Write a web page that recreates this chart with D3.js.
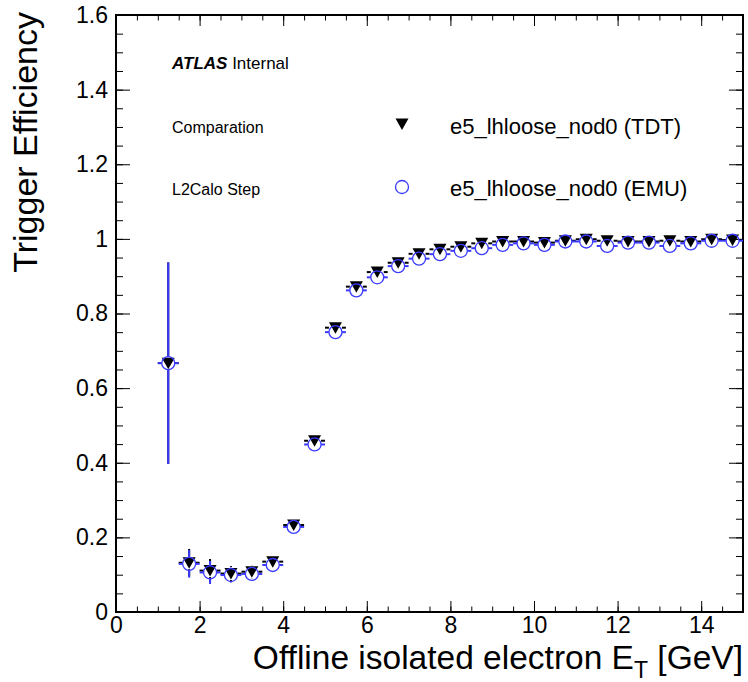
<!DOCTYPE html>
<html>
<head>
<meta charset="utf-8">
<script src="https://cdn.jsdelivr.net/npm/d3@7"></script>
<style>
  body { margin: 0; background: #fff; }
  svg { display: block; font-family: "Liberation Sans", Arial, sans-serif; }
</style>
</head>
<body>
<svg id="chart" width="748" height="682"></svg>
<script>
// bin centres (offline electron ET, GeV), bin half width 0.25
const binCenters = [1.25, 1.75, 2.25, 2.75, 3.25, 3.75, 4.25, 4.75, 5.25, 5.75, 6.25, 6.75, 7.25, 7.75,
  8.25, 8.75, 9.25, 9.75, 10.25, 10.75, 11.25, 11.75, 12.25, 12.75, 13.25, 13.75, 14.25, 14.75];
const binHalfWidth = 0.25;

const effTDT = [0.667, 0.132, 0.111, 0.103, 0.108, 0.135, 0.233, 0.459, 0.762, 0.872, 0.911, 0.936, 0.960, 0.972,
  0.979, 0.988, 0.993, 0.993, 0.990, 0.995, 0.999, 0.995, 0.993, 0.993, 0.995, 0.993, 0.999, 0.997];
const effEMU = [0.667, 0.129, 0.106, 0.099, 0.102, 0.126, 0.228, 0.449, 0.750, 0.862, 0.897, 0.927, 0.947, 0.959,
  0.968, 0.975, 0.984, 0.988, 0.984, 0.993, 0.993, 0.981, 0.990, 0.990, 0.981, 0.988, 0.995, 0.995];
const errTDT = [0.27, 0.037, 0.031, 0.02, 0.018, 0.017, 0.015, 0.014, 0.012, 0.01, 0.009, 0.008, 0.007, 0.006,
  0.005, 0.005, 0.004, 0.004, 0.004, 0.003, 0.003, 0.003, 0.003, 0.003, 0.003, 0.003, 0.002, 0.002];
const errEMU = errTDT;

const xTicks = [0, 2, 4, 6, 8, 10, 12, 14];
const yTicks = [0, 0.2, 0.4, 0.6, 0.8, 1, 1.2, 1.4, 1.6];

const labelTDT = 'e5_lhloose_nod0 (TDT)';
const labelEMU = 'e5_lhloose_nod0 (EMU)';

const blue = '#3a3aff';

const svg = d3.select('#chart');
const margin = { top: 15, right: 5, bottom: 70, left: 116 };
const width = 748 - margin.left - margin.right;
const height = 682 - margin.top - margin.bottom;

const x = d3.scaleLinear().domain([0, 15]).range([margin.left, margin.left + width]);
const y = d3.scaleLinear().domain([0, 1.6]).range([margin.top + height, margin.top]);

const fmtY = d => d === 0 ? '0' : d3.format('~g')(d);

// minor ticks
const xMinor = d3.range(0, 15.01, 0.5);
const yMinor = d3.range(0, 1.601, 0.05);

function styleAxis(g) {
  g.select('.domain').remove();
  g.selectAll('line').attr('stroke', '#000').attr('stroke-width', 1);
  g.selectAll('text').attr('font-size', 23).attr('fill', '#000');
}

// bottom
svg.append('g').attr('transform', `translate(0,${margin.top + height})`)
  .call(d3.axisBottom(x).tickValues(xMinor).tickSize(-5.5).tickFormat(''))
  .call(styleAxis);
svg.append('g').attr('transform', `translate(0,${margin.top + height})`)
  .call(d3.axisBottom(x).tickValues(xTicks).tickSize(-11).tickPadding(5).tickFormat(d3.format('d')))
  .call(styleAxis)
  .attr('font-family', null);
// top
svg.append('g').attr('transform', `translate(0,${margin.top})`)
  .call(d3.axisTop(x).tickValues(xMinor).tickSize(-5.5).tickFormat(''))
  .call(styleAxis);
svg.append('g').attr('transform', `translate(0,${margin.top})`)
  .call(d3.axisTop(x).tickValues(xTicks).tickSize(-11).tickFormat(''))
  .call(styleAxis);
// left
svg.append('g').attr('transform', `translate(${margin.left},0)`)
  .call(d3.axisLeft(y).tickValues(yMinor).tickSize(-7).tickFormat(''))
  .call(styleAxis);
svg.append('g').attr('transform', `translate(${margin.left},0)`)
  .call(d3.axisLeft(y).tickValues(yTicks).tickSize(-14).tickPadding(8).tickFormat(fmtY))
  .call(styleAxis)
  .attr('font-family', null);
// right
svg.append('g').attr('transform', `translate(${margin.left + width},0)`)
  .call(d3.axisRight(y).tickValues(yMinor).tickSize(-7).tickFormat(''))
  .call(styleAxis);
svg.append('g').attr('transform', `translate(${margin.left + width},0)`)
  .call(d3.axisRight(y).tickValues(yTicks).tickSize(-14).tickFormat(''))
  .call(styleAxis);

// frame
svg.append('rect')
  .attr('x', margin.left).attr('y', margin.top)
  .attr('width', width).attr('height', height)
  .attr('fill', 'none').attr('stroke', '#000').attr('stroke-width', 2);

// axis titles
svg.append('text')
  .attr('x', margin.left + width).attr('y', 669)
  .attr('text-anchor', 'end').attr('font-size', 33.5)
  .call(t => {
    t.append('tspan').text('Offline isolated electron E');
    t.append('tspan').attr('font-size', 23).attr('dy', 9).text('T');
    t.append('tspan').attr('dy', -9).text(' [GeV]');
  });

svg.append('text')
  .attr('transform', `translate(37,${margin.top - 3}) rotate(-90)`)
  .attr('text-anchor', 'end').attr('font-size', 34)
  .text('Trigger Efficiency');

// markers
const triPath = 'M-6.5,-5.5L6.5,-5.5L0,6Z';
const rMark = 6.5;

function drawSeries(vals, errs, color, marker) {
  const g = svg.append('g');
  const pts = binCenters.map((c, i) => ({ c, v: vals[i], e: errs[i] }));
  // horizontal error bars (outside the marker)
  g.selectAll('.hl').data(pts).enter().append('line')
    .attr('x1', d => x(d.c - binHalfWidth)).attr('x2', d => x(d.c) - rMark)
    .attr('y1', d => y(d.v)).attr('y2', d => y(d.v))
    .attr('stroke', color).attr('stroke-width', 2);
  g.selectAll('.hr').data(pts).enter().append('line')
    .attr('x1', d => x(d.c) + rMark).attr('x2', d => x(d.c + binHalfWidth))
    .attr('y1', d => y(d.v)).attr('y2', d => y(d.v))
    .attr('stroke', color).attr('stroke-width', 2);
  // vertical error bars, only where they stick out of the marker
  const big = pts.filter(d => y(d.v - d.e) - y(d.v) > rMark);
  g.selectAll('.vu').data(big).enter().append('line')
    .attr('x1', d => x(d.c)).attr('x2', d => x(d.c))
    .attr('y1', d => y(d.v + d.e)).attr('y2', d => y(d.v) - rMark)
    .attr('stroke', color).attr('stroke-width', 2);
  g.selectAll('.vd').data(big).enter().append('line')
    .attr('x1', d => x(d.c)).attr('x2', d => x(d.c))
    .attr('y1', d => y(d.v) + rMark).attr('y2', d => y(d.v - d.e))
    .attr('stroke', color).attr('stroke-width', 2);
  if (marker === 'tri') {
    g.selectAll('.m').data(pts).enter().append('path')
      .attr('d', triPath)
      .attr('transform', d => `translate(${x(d.c)},${y(d.v)})`)
      .attr('fill', '#000');
  } else {
    g.selectAll('.m').data(pts).enter().append('circle')
      .attr('cx', d => x(d.c)).attr('cy', d => y(d.v)).attr('r', rMark)
      .attr('fill', 'none').attr('stroke', color).attr('stroke-width', 1.3);
  }
}

drawSeries(effTDT, errTDT, '#000', 'tri');
drawSeries(effEMU, errEMU, blue, 'circle');

// labels
const atlas = svg.append('text').attr('x', 172).attr('y', 69).attr('font-size', 17);
atlas.append('tspan').attr('font-weight', 'bold').attr('font-style', 'italic').text('ATLAS');
atlas.append('tspan').text(' Internal');

svg.append('text').attr('x', 172).attr('y', 133).attr('font-size', 16).text('Comparation');
svg.append('text').attr('x', 172).attr('y', 195).attr('font-size', 16).text('L2Calo Step');

// legend
svg.append('path').attr('d', triPath).attr('transform', 'translate(402,124)').attr('fill', '#000');
svg.append('circle').attr('cx', 402).attr('cy', 187).attr('r', rMark)
  .attr('fill', 'none').attr('stroke', blue).attr('stroke-width', 1.3);
svg.append('text').attr('x', 450).attr('y', 134).attr('font-size', 22).text(labelTDT);
svg.append('text').attr('x', 450).attr('y', 196).attr('font-size', 22).text(labelEMU);
</script>
</body>
</html>
